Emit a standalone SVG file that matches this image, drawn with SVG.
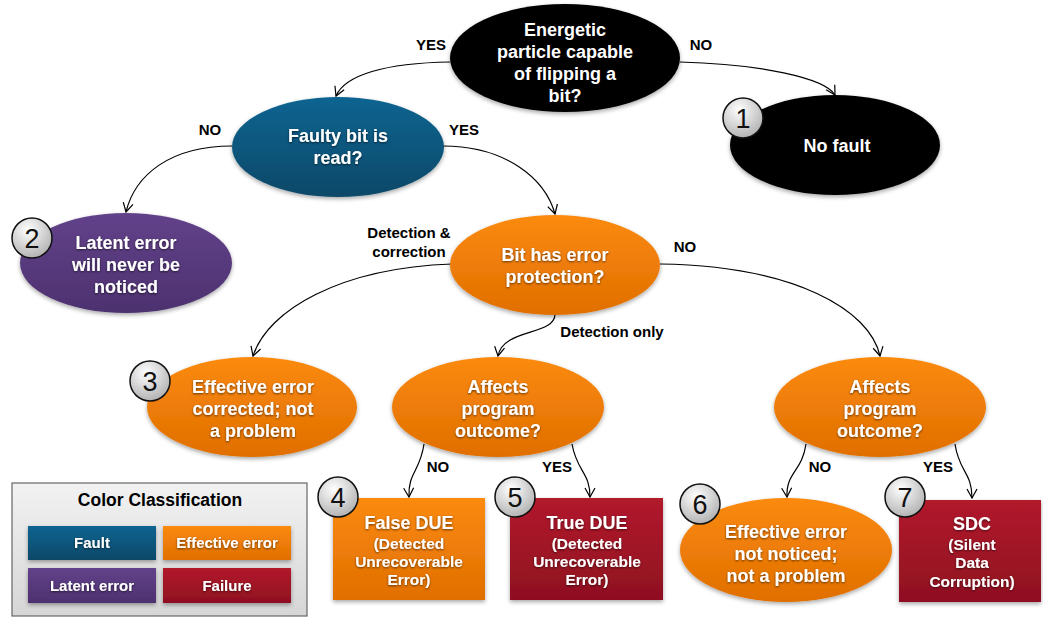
<svg xmlns="http://www.w3.org/2000/svg" width="1043" height="618" viewBox="0 0 1043 618">
<defs>
<linearGradient id="gBlue" x1="0" y1="0" x2="0" y2="1"><stop offset="0" stop-color="#0e6491"/><stop offset="1" stop-color="#094868"/></linearGradient>
<linearGradient id="gPurple" x1="0" y1="0" x2="0" y2="1"><stop offset="0" stop-color="#62428a"/><stop offset="1" stop-color="#4d316f"/></linearGradient>
<linearGradient id="gOrange" x1="0" y1="0" x2="0" y2="1"><stop offset="0" stop-color="#fb8a10"/><stop offset="1" stop-color="#e06f00"/></linearGradient>
<linearGradient id="gRed" x1="0" y1="0" x2="0" y2="1"><stop offset="0" stop-color="#b21a2c"/><stop offset="1" stop-color="#8e1020"/></linearGradient>
<linearGradient id="gLegend" x1="0" y1="0" x2="0" y2="1"><stop offset="0" stop-color="#f2f2f2"/><stop offset="1" stop-color="#d6d6d6"/></linearGradient>
<radialGradient id="gNum" cx="0.4" cy="0.3" r="0.8"><stop offset="0" stop-color="#ffffff"/><stop offset="1" stop-color="#a9a9a9"/></radialGradient>
<filter id="sh" x="-10%" y="-10%" width="120%" height="130%"><feDropShadow dx="0" dy="2" stdDeviation="2" flood-color="#000" flood-opacity="0.35"/></filter>
<filter id="tsh" x="-10%" y="-20%" width="120%" height="150%"><feDropShadow dx="0" dy="1" stdDeviation="0.8" flood-color="#000" flood-opacity="0.6"/></filter>
<marker id="arr" markerWidth="12" markerHeight="12" refX="10" refY="6" orient="auto" markerUnits="userSpaceOnUse"><path d="M1,1 L10,6 L1,11" fill="none" stroke="#000" stroke-width="1.2"/></marker>
<style>
.nt{font-family:"Liberation Sans",Arial,sans-serif;font-weight:bold;font-size:18px;fill:#fff;text-anchor:middle;}
.st{font-size:15.5px;}
.lb{font-family:"Liberation Sans",Arial,sans-serif;font-weight:bold;font-size:15px;fill:#000;text-anchor:middle;}
.lt{font-size:17.5px;}
.num{font-family:"Liberation Sans",Arial,sans-serif;font-size:27px;fill:#111;text-anchor:middle;}
.nc{fill:url(#gNum);stroke:#111;stroke-width:1.5;}
.cn{fill:none;stroke:#000;stroke-width:1.2;marker-end:url(#arr);}
.lg{font-family:"Liberation Sans",Arial,sans-serif;font-weight:bold;font-size:15px;fill:#fff;text-anchor:middle;}
</style>
</defs>
<rect width="1043" height="618" fill="#fff"/>

<g id="connectors">
<path class="cn" d="M450,62 C385,63 345,75 336,96"/>
<path class="cn" d="M680,62 C760,64 825,78 835,95"/>
<path class="cn" d="M232,146 C170,146 135,175 126,212"/>
<path class="cn" d="M443,146 C505,146 545,178 555,214"/>
<path class="cn" d="M452,264 C340,268 268,310 253,356"/>
<path class="cn" d="M555,314 C555,336 503,328 498,356"/>
<path class="cn" d="M660,264 C795,266 870,310 880,356"/>
<path class="cn" d="M424,444 C420,472 408,472 409,497"/>
<path class="cn" d="M572,444 C577,472 590,472 590,497"/>
<path class="cn" d="M806,444 C802,472 786,472 787,497"/>
<path class="cn" d="M955,444 C959,472 972,472 972,498"/>
<text class="lb" x="431" y="50">YES</text>
<text class="lb" x="701" y="50">NO</text>
<text class="lb" x="210" y="135">NO</text>
<text class="lb" x="464" y="135">YES</text>
<text class="lb" x="409" y="238">Detection &amp;</text>
<text class="lb" x="409" y="257">correction</text>
<text class="lb" x="685" y="252">NO</text>
<text class="lb" x="612" y="337">Detection only</text>
<text class="lb" x="438" y="472">NO</text>
<text class="lb" x="557" y="472">YES</text>
<text class="lb" x="820" y="472">NO</text>
<text class="lb" x="938" y="472">YES</text>
</g>

<g id="n-particle">
<ellipse cx="565" cy="58" rx="115" ry="54" fill="#000" filter="url(#sh)"/>
<text class="nt" x="565" y="36">Energetic</text>
<text class="nt" x="565" y="58">particle capable</text>
<text class="nt" x="565" y="80">of flipping a</text>
<text class="nt" x="565" y="102">bit?</text>
</g>

<g id="n-faulty">
<ellipse cx="338" cy="147" rx="106" ry="50" fill="url(#gBlue)" filter="url(#sh)"/>
<text class="nt" x="338" y="142" filter="url(#tsh)">Faulty bit is</text>
<text class="nt" x="338" y="164" filter="url(#tsh)">read?</text>
</g>

<g id="n-nofault">
<ellipse cx="835" cy="145" rx="105" ry="50" fill="#000" filter="url(#sh)"/>
<text class="nt" x="837" y="152">No fault</text>
<circle class="nc" cx="743" cy="118" r="20"/>
<text class="num" x="743" y="128">1</text>
</g>

<g id="n-latent">
<ellipse cx="126" cy="263" rx="106" ry="50" fill="url(#gPurple)" filter="url(#sh)"/>
<text class="nt" x="126" y="249" filter="url(#tsh)">Latent error</text>
<text class="nt" x="126" y="271" filter="url(#tsh)">will never be</text>
<text class="nt" x="126" y="293" filter="url(#tsh)">noticed</text>
<circle class="nc" cx="32" cy="238" r="20"/>
<text class="num" x="32" y="248">2</text>
</g>

<g id="n-protection">
<ellipse cx="555" cy="265" rx="105" ry="50" fill="url(#gOrange)" filter="url(#sh)"/>
<text class="nt" x="555" y="261" filter="url(#tsh)">Bit has error</text>
<text class="nt" x="555" y="283" filter="url(#tsh)">protection?</text>
</g>

<g id="n-corrected">
<ellipse cx="252" cy="407" rx="105" ry="50" fill="url(#gOrange)" filter="url(#sh)"/>
<text class="nt" x="253" y="393" filter="url(#tsh)">Effective error</text>
<text class="nt" x="253" y="415" filter="url(#tsh)">corrected; not</text>
<text class="nt" x="253" y="437" filter="url(#tsh)">a problem</text>
<circle class="nc" cx="150" cy="381" r="20"/>
<text class="num" x="150" y="391">3</text>
</g>

<g id="n-affects1">
<ellipse cx="498" cy="407" rx="106" ry="50" fill="url(#gOrange)" filter="url(#sh)"/>
<text class="nt" x="498" y="393" filter="url(#tsh)">Affects</text>
<text class="nt" x="498" y="415" filter="url(#tsh)">program</text>
<text class="nt" x="498" y="437" filter="url(#tsh)">outcome?</text>
</g>

<g id="n-affects2">
<ellipse cx="880" cy="407" rx="106" ry="50" fill="url(#gOrange)" filter="url(#sh)"/>
<text class="nt" x="880" y="393" filter="url(#tsh)">Affects</text>
<text class="nt" x="880" y="415" filter="url(#tsh)">program</text>
<text class="nt" x="880" y="437" filter="url(#tsh)">outcome?</text>
</g>

<g id="n-falsedue">
<rect x="333" y="498" width="152" height="102" fill="url(#gOrange)" filter="url(#sh)"/>
<text class="nt" x="409" y="529" filter="url(#tsh)">False DUE</text>
<text class="nt st" x="409" y="549" filter="url(#tsh)">(Detected</text>
<text class="nt st" x="409" y="567" filter="url(#tsh)">Unrecoverable</text>
<text class="nt st" x="409" y="585" filter="url(#tsh)">Error)</text>
<circle class="nc" cx="338" cy="497" r="20"/>
<text class="num" x="338" y="507">4</text>
</g>

<g id="n-truedue">
<rect x="510" y="498" width="153" height="102" fill="url(#gRed)" filter="url(#sh)"/>
<text class="nt" x="587" y="529" filter="url(#tsh)">True DUE</text>
<text class="nt st" x="587" y="549" filter="url(#tsh)">(Detected</text>
<text class="nt st" x="587" y="567" filter="url(#tsh)">Unrecoverable</text>
<text class="nt st" x="587" y="585" filter="url(#tsh)">Error)</text>
<circle class="nc" cx="515" cy="497" r="20"/>
<text class="num" x="515" y="507">5</text>
</g>

<g id="n-notnoticed">
<ellipse cx="786" cy="550" rx="106" ry="52" fill="url(#gOrange)" filter="url(#sh)"/>
<text class="nt" x="786" y="538" filter="url(#tsh)">Effective error</text>
<text class="nt" x="786" y="560" filter="url(#tsh)">not noticed;</text>
<text class="nt" x="786" y="582" filter="url(#tsh)">not a problem</text>
<circle class="nc" cx="700" cy="504" r="20"/>
<text class="num" x="700" y="514">6</text>
</g>

<g id="n-sdc">
<rect x="899" y="500" width="142" height="102" fill="url(#gRed)" filter="url(#sh)"/>
<text class="nt" x="972" y="530" filter="url(#tsh)">SDC</text>
<text class="nt st" x="972" y="550" filter="url(#tsh)">(Silent</text>
<text class="nt st" x="972" y="568" filter="url(#tsh)">Data</text>
<text class="nt st" x="972" y="587" filter="url(#tsh)">Corruption)</text>
<circle class="nc" cx="905" cy="497" r="20"/>
<text class="num" x="905" y="507">7</text>
</g>

<g id="legend">
<rect x="12" y="483" width="295" height="133" fill="url(#gLegend)" stroke="#666" stroke-width="1.2"/>
<text class="lb lt" x="160" y="506">Color Classification</text>
<rect x="28" y="526" width="128" height="34" fill="url(#gBlue)" filter="url(#sh)"/>
<text class="lg" x="92" y="548" filter="url(#tsh)">Fault</text>
<rect x="163" y="526" width="128" height="34" fill="url(#gOrange)" filter="url(#sh)"/>
<text class="lg" x="227" y="548" filter="url(#tsh)">Effective error</text>
<rect x="28" y="568" width="128" height="35" fill="url(#gPurple)" filter="url(#sh)"/>
<text class="lg" x="92" y="591" filter="url(#tsh)">Latent error</text>
<rect x="163" y="568" width="128" height="35" fill="url(#gRed)" filter="url(#sh)"/>
<text class="lg" x="227" y="591" filter="url(#tsh)">Failure</text>
</g>
</svg>
